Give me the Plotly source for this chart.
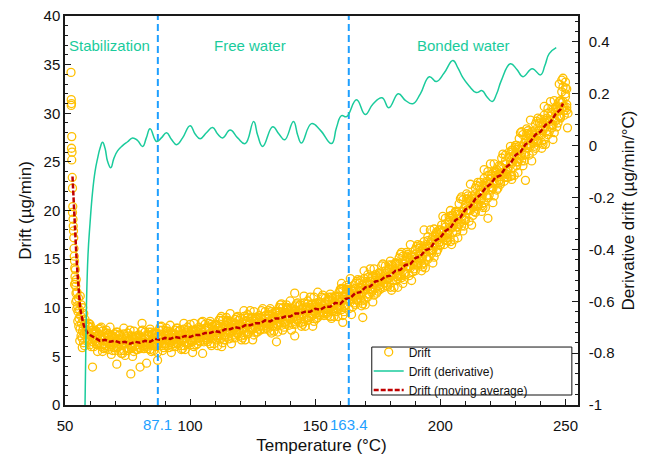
import plotly.graph_objects as go

# ---------------- data ----------------
# early (stabilization) drift readings
init_temp = [52.4, 52.5, 52.6, 52.5, 52.7, 52.6, 52.8, 52.7, 52.9, 53.0, 53.1, 53.0, 53.2, 53.3, 53.4,
             53.5, 53.6, 53.7, 53.8, 53.9, 54.0, 54.1, 54.2, 54.3, 54.4, 54.5, 54.6, 54.8, 55.0, 55.2,
             55.4, 55.6, 55.8, 56.0, 56.2, 56.4, 56.6, 56.8, 57.0, 57.2, 57.4, 57.6, 57.8, 55.5, 56.5,
             57.5, 54.7, 55.9, 56.9, 57.3, 53.8, 54.3, 55.1, 56.1, 57.1]
init_drift = [34.2, 31.4, 31.0, 30.8, 27.6, 26.4, 26.0, 25.2, 23.4, 22.3, 20.4, 19.8, 19.1, 18.4, 17.9,
              17.2, 16.1, 15.3, 14.8, 14.1, 13.2, 13.9, 12.6, 12.2, 11.5, 12.9, 10.8, 11.6, 10.2, 9.6,
              11.0, 8.9, 9.8, 7.8, 9.2, 7.1, 8.4, 6.9, 7.6, 8.8, 6.4, 7.3, 6.1, 8.1, 10.3,
              9.4, 9.9, 6.6, 5.9, 8.0, 12.4, 10.6, 8.6, 11.2, 10.0]

temp_grid = [58, 59, 60, 61, 62, 63, 64, 65, 66, 67, 68, 69, 70, 71, 72, 73, 74, 75, 76, 77, 78, 79, 80, 81,
             82, 83, 84, 85, 86, 87, 88, 89, 90, 91, 92, 93, 94, 95, 96, 97, 98, 99, 100, 101, 102, 103, 104, 105,
             106, 107, 108, 109, 110, 111, 112, 113, 114, 115, 116, 117, 118, 119, 120, 121, 122, 123, 124, 125, 126, 127, 128, 129,
             130, 131, 132, 133, 134, 135, 136, 137, 138, 139, 140, 141, 142, 143, 144, 145, 146, 147, 148, 149, 150, 151, 152, 153,
             154, 155, 156, 157, 158, 159, 160, 161, 162, 163, 164, 165, 166, 167, 168, 169, 170, 171, 172, 173, 174, 175, 176, 177,
             178, 179, 180, 181, 182, 183, 184, 185, 186, 187, 188, 189, 190, 191, 192, 193, 194, 195, 196, 197, 198, 199, 200, 201,
             202, 203, 204, 205, 206, 207, 208, 209, 210, 211, 212, 213, 214, 215, 216, 217, 218, 219, 220, 221, 222, 223, 224, 225,
             226, 227, 228, 229, 230, 231, 232, 233, 234, 235, 236, 237, 238, 239, 240, 241, 242, 243, 244, 245, 246, 247, 248, 249, 250]
temp_grid_b = [58.5, 59.5, 60.5, 61.5, 62.5, 63.5, 64.5, 65.5, 66.5, 67.5, 68.5, 69.5, 70.5, 71.5, 72.5, 73.5, 74.5, 75.5, 76.5, 77.5, 78.5, 79.5, 80.5, 81.5,
               82.5, 83.5, 84.5, 85.5, 86.5, 87.5, 88.5, 89.5, 90.5, 91.5, 92.5, 93.5, 94.5, 95.5, 96.5, 97.5, 98.5, 99.5, 100.5, 101.5, 102.5, 103.5, 104.5, 105.5,
               106.5, 107.5, 108.5, 109.5, 110.5, 111.5, 112.5, 113.5, 114.5, 115.5, 116.5, 117.5, 118.5, 119.5, 120.5, 121.5, 122.5, 123.5, 124.5, 125.5, 126.5, 127.5, 128.5, 129.5,
               130.5, 131.5, 132.5, 133.5, 134.5, 135.5, 136.5, 137.5, 138.5, 139.5, 140.5, 141.5, 142.5, 143.5, 144.5, 145.5, 146.5, 147.5, 148.5, 149.5, 150.5, 151.5, 152.5, 153.5,
               154.5, 155.5, 156.5, 157.5, 158.5, 159.5, 160.5, 161.5, 162.5, 163.5, 164.5, 165.5, 166.5, 167.5, 168.5, 169.5, 170.5, 171.5, 172.5, 173.5, 174.5, 175.5, 176.5, 177.5,
               178.5, 179.5, 180.5, 181.5, 182.5, 183.5, 184.5, 185.5, 186.5, 187.5, 188.5, 189.5, 190.5, 191.5, 192.5, 193.5, 194.5, 195.5, 196.5, 197.5, 198.5, 199.5, 200.5, 201.5,
               202.5, 203.5, 204.5, 205.5, 206.5, 207.5, 208.5, 209.5, 210.5, 211.5, 212.5, 213.5, 214.5, 215.5, 216.5, 217.5, 218.5, 219.5, 220.5, 221.5, 222.5, 223.5, 224.5, 225.5,
               226.5, 227.5, 228.5, 229.5, 230.5, 231.5, 232.5, 233.5, 234.5, 235.5, 236.5, 237.5, 238.5, 239.5, 240.5, 241.5, 242.5, 243.5, 244.5, 245.5, 246.5, 247.5, 248.5, 249.5, 250.5]

# drift readings (µg/min); sets 1, 3, 5 at temp_grid, sets 2, 4, 6 at temp_grid_b
drift_set1 = [8.2, 6.7, 8.3, 6.9, 7.5, 5.5, 6.8, 7.6, 6.1, 6.5, 8.0, 5.6, 6.9, 5.9, 7.2, 5.3, 6.6, 7.4, 6.2, 5.0, 7.0, 6.5, 5.8, 7.7,
              6.9, 5.8, 7.8, 6.5, 7.3, 5.4, 6.9, 7.7, 6.3, 6.7, 8.2, 6.0, 7.3, 6.3, 7.7, 5.8, 7.2, 8.0, 6.7, 5.4, 7.7, 7.2, 6.5, 8.6,
              7.7, 6.5, 8.6, 7.2, 8.2, 6.1, 7.7, 8.7, 7.2, 7.7, 9.4, 6.9, 8.4, 7.3, 8.9, 6.9, 8.4, 9.3, 7.9, 6.7, 8.9, 8.4, 7.7, 9.9,
              8.9, 7.8, 9.9, 8.6, 9.5, 7.5, 9.1, 10.0, 8.5, 9.0, 10.7, 8.3, 9.8, 8.7, 10.3, 8.3, 9.8, 10.7, 9.4, 8.1, 10.4, 9.9, 9.2, 11.3,
              10.4, 9.2, 11.4, 10.1, 11.1, 9.1, 10.7, 11.9, 10.2, 10.9, 13.0, 10.1, 12.0, 10.8, 12.8, 10.4, 12.3, 13.4, 11.9, 10.6, 13.4, 12.7, 11.9, 14.5,
              13.5, 12.2, 14.8, 13.3, 14.5, 12.1, 14.1, 15.3, 13.6, 14.3, 16.5, 13.7, 15.5, 14.4, 16.4, 14.2, 16.1, 17.3, 15.9, 14.6, 17.4, 17.0, 16.4, 19.4,
              18.3, 16.9, 20.0, 18.3, 19.8, 17.2, 19.6, 21.1, 19.3, 20.1, 22.7, 19.5, 21.7, 20.5, 22.9, 20.3, 22.5, 24.0, 22.4, 20.8, 24.0, 23.5, 22.7, 25.8,
              24.8, 23.4, 26.6, 25.0, 26.5, 23.9, 26.3, 27.8, 26.0, 26.9, 29.3, 26.1, 28.3, 27.1, 29.4, 26.8, 29.0, 30.5, 28.8, 27.3, 30.6, 30.2, 29.5, 32.7, 31.7]
drift_set2 = [7.3, 8.4, 6.0, 7.3, 7.6, 6.4, 8.0, 5.8, 6.6, 7.1, 5.2, 6.8, 7.5, 6.3, 5.6, 7.9, 5.9, 6.5, 7.1, 5.5, 6.9, 6.2, 7.6, 5.8,
              6.0, 7.5, 5.5, 6.9, 7.4, 6.3, 8.1, 5.9, 6.8, 7.3, 5.4, 7.2, 7.9, 6.7, 6.1, 8.4, 6.5, 7.1, 7.6, 6.0, 7.6, 6.9, 8.5, 6.5,
              6.7, 8.4, 6.1, 7.7, 8.3, 7.1, 9.1, 6.7, 7.7, 8.4, 6.3, 8.2, 9.0, 7.7, 7.1, 9.7, 7.5, 8.3, 8.9, 7.2, 8.8, 8.1, 9.7, 7.8,
              7.9, 9.7, 7.4, 9.0, 9.6, 8.5, 10.4, 8.0, 9.1, 9.7, 7.7, 9.6, 10.4, 9.2, 8.5, 11.2, 9.0, 9.7, 10.3, 8.6, 10.2, 9.5, 11.1, 9.2,
              9.4, 11.1, 8.9, 10.5, 11.2, 10.1, 12.0, 9.6, 10.9, 11.7, 9.3, 11.7, 12.7, 11.3, 10.7, 13.8, 11.4, 12.3, 13.1, 11.3, 13.1, 12.3, 14.3, 12.1,
              12.3, 14.4, 11.8, 13.8, 14.6, 13.3, 15.7, 12.9, 14.3, 15.1, 12.8, 15.2, 16.3, 14.9, 14.4, 18.0, 15.2, 16.1, 17.0, 15.2, 17.8, 16.7, 18.5, 16.5,
              16.9, 19.4, 16.5, 18.9, 19.9, 18.6, 21.4, 18.4, 20.0, 21.0, 18.5, 21.3, 22.6, 21.1, 20.5, 24.2, 21.5, 22.7, 23.7, 21.5, 23.9, 23.1, 25.4, 23.0,
              23.4, 26.0, 23.2, 25.6, 26.7, 25.3, 28.1, 25.1, 26.7, 27.8, 25.1, 27.9, 29.2, 27.7, 27.0, 30.7, 28.2, 29.1, 30.1, 28.0, 30.4, 29.7, 32.2, 29.8, 30.3]
drift_set3 = [8.8, 7.2, 6.2, 7.7, 7.0, 6.2, 7.9, 5.5, 7.0, 7.4, 6.2, 6.5, 5.6, 7.5, 6.8, 6.2, 5.1, 7.1, 7.7, 5.9, 6.7, 5.7, 7.0, 6.4,
              7.5, 6.3, 5.7, 7.3, 6.8, 6.1, 8.0, 5.6, 7.2, 7.6, 6.4, 6.9, 6.0, 7.9, 7.2, 6.7, 5.7, 7.7, 8.3, 6.5, 7.3, 6.3, 7.8, 7.2,
              8.3, 7.1, 6.3, 8.1, 7.6, 6.9, 8.9, 6.4, 8.2, 8.7, 7.4, 7.9, 6.9, 9.1, 8.3, 7.8, 6.7, 9.0, 9.7, 7.8, 8.6, 7.5, 9.0, 8.4,
              9.6, 8.3, 7.6, 9.4, 9.0, 8.2, 10.3, 7.7, 9.5, 10.0, 8.8, 9.3, 8.3, 10.5, 9.8, 9.3, 8.1, 10.4, 11.1, 9.2, 10.0, 9.0, 10.5, 9.9,
              11.0, 9.8, 9.1, 11.0, 10.5, 9.8, 11.9, 9.2, 11.4, 12.1, 10.6, 11.3, 10.3, 12.9, 12.1, 11.6, 10.3, 13.1, 14.0, 11.8, 12.8, 11.7, 13.5, 12.9,
              14.3, 12.9, 12.1, 14.3, 13.8, 13.0, 15.5, 12.5, 14.8, 15.5, 14.1, 14.8, 13.8, 16.5, 15.8, 15.3, 14.1, 16.9, 18.0, 15.9, 17.0, 16.0, 18.0, 17.4,
              19.2, 17.6, 16.8, 19.5, 19.0, 18.3, 21.2, 17.9, 20.6, 21.5, 20.0, 20.8, 19.8, 22.9, 22.1, 21.7, 20.3, 23.6, 24.8, 22.3, 23.6, 22.3, 24.5, 23.9,
              25.7, 24.2, 23.5, 26.2, 25.8, 25.0, 28.0, 24.6, 27.3, 28.2, 26.6, 27.5, 26.4, 29.5, 28.7, 28.2, 26.8, 30.0, 31.2, 28.8, 30.1, 29.0, 31.3, 30.7, 32.6]
drift_set4 = [7.7, 8.0, 8.0, 6.0, 6.5, 7.8, 6.0, 7.0, 7.7, 5.7, 7.2, 6.4, 6.0, 6.7, 5.3, 7.3, 6.8, 5.8, 6.1, 7.6, 5.7, 7.2, 6.5, 6.1,
              6.4, 7.1, 7.5, 5.6, 6.3, 7.7, 6.1, 7.1, 7.9, 5.9, 7.4, 6.8, 6.4, 7.1, 5.7, 7.8, 7.4, 6.4, 6.7, 8.4, 6.2, 8.0, 7.2, 6.9,
              7.1, 7.9, 8.3, 6.3, 7.1, 8.7, 6.9, 8.0, 9.0, 6.8, 8.5, 7.8, 7.4, 8.2, 6.7, 9.1, 8.6, 7.5, 7.9, 9.6, 7.5, 9.2, 8.5, 8.1,
              8.4, 9.2, 9.6, 7.6, 8.4, 10.0, 8.2, 9.4, 10.3, 8.2, 9.9, 9.2, 8.8, 9.6, 8.1, 10.5, 10.0, 9.0, 9.4, 11.1, 8.9, 10.6, 9.9, 9.5,
              9.8, 10.7, 11.1, 9.1, 10.0, 11.6, 9.8, 11.1, 12.3, 9.9, 11.9, 11.2, 10.8, 11.8, 10.2, 13.0, 12.5, 11.4, 11.9, 14.0, 11.5, 13.6, 12.8, 12.5,
              12.9, 13.9, 14.4, 12.1, 13.2, 15.1, 13.1, 14.5, 15.7, 13.3, 15.4, 14.7, 14.4, 15.5, 13.8, 16.8, 16.3, 15.2, 15.9, 18.1, 15.7, 18.0, 17.3, 17.0,
              17.5, 18.8, 19.5, 17.0, 18.3, 20.7, 18.4, 20.2, 21.7, 18.9, 21.5, 20.7, 20.4, 21.7, 19.9, 23.3, 22.8, 21.6, 22.4, 24.8, 22.1, 24.6, 23.8, 23.4,
              24.0, 25.4, 26.2, 23.6, 25.0, 27.4, 25.1, 26.9, 28.4, 25.7, 28.1, 27.3, 27.0, 28.3, 26.4, 29.8, 29.3, 28.1, 28.8, 31.3, 28.6, 31.2, 30.5, 30.3, 30.9]
drift_set5 = [8.4, 7.3, 7.2, 6.5, 7.6, 7.1, 6.3, 6.8, 5.9, 7.2, 6.8, 6.2, 7.3, 6.0, 6.5, 6.8, 6.3, 5.6, 6.7, 7.0, 6.1, 6.6, 5.9, 6.7,
              7.1, 6.4, 6.7, 6.1, 7.4, 7.0, 6.4, 6.9, 6.1, 7.4, 7.0, 6.6, 7.7, 6.4, 6.9, 7.3, 6.9, 6.2, 7.3, 7.7, 6.7, 7.3, 6.6, 7.5,
              7.9, 7.2, 7.4, 6.8, 8.3, 7.9, 7.2, 7.8, 7.0, 8.5, 8.1, 7.6, 8.8, 7.4, 8.0, 8.5, 8.0, 7.3, 8.6, 9.0, 7.9, 8.5, 7.8, 8.8,
              9.2, 8.4, 8.7, 8.1, 9.6, 9.2, 8.5, 9.1, 8.3, 9.8, 9.4, 8.9, 10.2, 8.8, 9.4, 9.9, 9.5, 8.7, 10.0, 10.4, 9.4, 10.0, 9.3, 10.2,
              10.6, 9.9, 10.2, 9.6, 11.2, 10.8, 10.2, 10.9, 10.0, 11.8, 11.4, 10.9, 12.5, 10.9, 11.7, 12.4, 11.9, 11.1, 12.7, 13.2, 12.0, 12.8, 12.1, 13.2,
              13.8, 13.0, 13.4, 12.8, 14.6, 14.2, 13.4, 14.2, 13.4, 15.2, 14.9, 14.4, 16.0, 14.6, 15.4, 16.1, 15.7, 15.0, 16.7, 17.3, 16.3, 17.2, 16.5, 17.9,
              18.6, 17.8, 18.3, 17.7, 19.9, 19.6, 18.8, 19.9, 19.0, 21.2, 20.9, 20.4, 22.3, 20.7, 21.7, 22.6, 22.1, 21.3, 23.3, 23.9, 22.7, 23.7, 22.9, 24.3,
              25.1, 24.3, 25.0, 24.4, 26.7, 26.3, 25.6, 26.6, 25.7, 27.9, 27.5, 27.0, 28.9, 27.2, 28.2, 29.1, 28.6, 27.8, 29.7, 30.4, 29.2, 30.3, 29.6, 31.2, 32.0]
drift_set6 = [7.5, 8.1, 7.1, 7.4, 6.2, 7.3, 6.7, 6.2, 7.4, 6.4, 7.0, 5.9, 6.6, 7.2, 6.2, 5.6, 6.9, 6.6, 5.9, 6.4, 7.1, 6.2, 6.9, 6.4,
              6.2, 7.2, 6.6, 7.0, 6.0, 7.2, 6.8, 6.3, 7.6, 6.6, 7.2, 6.3, 7.0, 7.6, 6.6, 6.1, 7.5, 7.2, 6.5, 7.1, 7.8, 6.9, 7.7, 7.2,
              6.9, 8.0, 7.3, 7.8, 6.7, 8.1, 7.6, 7.1, 8.6, 7.6, 8.3, 7.2, 8.0, 8.7, 7.7, 7.2, 8.7, 8.4, 7.7, 8.3, 9.0, 8.1, 8.9, 8.4,
              8.2, 9.3, 8.6, 9.1, 8.1, 9.5, 9.0, 8.5, 10.0, 8.9, 9.6, 8.6, 9.4, 10.2, 9.1, 8.6, 10.1, 9.8, 9.1, 9.7, 10.5, 9.5, 10.4, 9.9,
              9.6, 10.8, 10.1, 10.6, 9.6, 11.1, 10.6, 10.1, 11.9, 10.8, 11.7, 10.5, 11.6, 12.5, 11.3, 10.8, 12.7, 12.4, 11.6, 12.4, 13.3, 12.3, 13.4, 12.9,
              12.6, 14.0, 13.3, 13.9, 12.8, 14.5, 14.0, 13.5, 15.3, 14.2, 15.2, 14.0, 15.1, 16.1, 15.0, 14.6, 16.5, 16.3, 15.6, 16.5, 17.6, 16.7, 17.8, 17.4,
              17.2, 19.0, 18.2, 19.1, 17.8, 19.9, 19.4, 19.0, 21.2, 20.0, 21.2, 19.9, 21.3, 22.5, 21.2, 20.8, 23.0, 22.8, 22.1, 23.0, 24.2, 23.1, 24.4, 23.9,
              23.7, 25.5, 24.8, 25.7, 24.6, 26.6, 26.2, 25.7, 27.9, 26.7, 27.8, 26.6, 27.9, 29.0, 27.8, 27.3, 29.5, 29.3, 28.5, 29.5, 30.7, 29.7, 31.1, 30.7, 30.6]

outlier_temp = [61.0, 76.3, 80.0, 70.7, 82.6, 87.0, 105.0, 112.6, 80.8, 141.8, 151.0, 141.8, 134.5, 160.5, 161.0,
                169.0, 234.0, 249.0, 250.0, 248.5, 250.5, 251.0, 250.8, 247.5, 219.0, 228.5]
outlier_drift = [3.9, 3.2, 3.9, 4.2, 4.3, 4.6, 5.3, 6.0, 8.4, 11.5, 11.6, 7.1, 6.5, 12.5, 8.5,
                 9.0, 23.1, 33.6, 33.2, 33.4, 32.5, 30.0, 28.5, 33.0, 19.2, 23.6]

ma_temp = [53, 53.5, 54, 54.5, 55, 55.5, 56, 56.5, 57, 57.5, 58, 59, 60, 62, 64, 66, 68, 70, 72, 74, 76, 78, 80,
           82, 84, 86, 88, 90, 92, 94, 96, 98, 100, 102, 104, 106, 108, 110, 112, 114, 116, 118, 120, 122, 124,
           126, 128, 130, 132, 134, 136, 138, 140, 142, 144, 146, 148, 150, 152, 154, 156, 158, 160, 162, 164,
           166, 168, 170, 172, 174, 176, 178, 180, 182, 184, 186, 188, 190, 192, 194, 196, 198, 200, 202, 204,
           206, 208, 210, 212, 214, 216, 218, 220, 222, 224, 226, 228, 230, 232, 234, 236, 238, 240, 242, 244,
           246, 248, 249]
ma_drift = [23.5, 20.5, 18.0, 15.6, 13.5, 11.7, 10.1, 9.3, 8.7, 8.2, 7.9, 7.4, 7.2, 6.9, 6.6, 6.7, 6.5, 6.6, 6.4, 6.5, 6.3, 6.5, 6.4,
            6.6, 6.5, 6.8, 6.7, 6.9, 6.8, 7.0, 6.9, 7.1, 7.0, 7.2, 7.2, 7.4, 7.4, 7.6, 7.5, 7.8, 7.8, 8.0, 7.9, 8.2, 8.2,
            8.4, 8.4, 8.7, 8.6, 8.9, 8.9, 9.1, 9.1, 9.4, 9.4, 9.6, 9.6, 9.9, 9.8, 10.1, 10.1, 10.5, 10.4, 10.9, 11.0,
            11.5, 11.6, 12.1, 12.2, 12.7, 12.8, 13.2, 13.3, 13.8, 13.9, 14.4, 14.5, 15.1, 15.3, 15.9, 16.1, 16.9, 17.2, 17.9, 18.2,
            19.0, 19.3, 20.1, 20.4, 21.2, 21.6, 22.3, 22.7, 23.4, 23.6, 24.4, 24.8, 25.7, 26.0, 26.8, 27.1, 27.8, 28.1, 28.8, 29.1,
            29.9, 30.4, 31.0]

der_temp = [57.6, 58.0, 58.5, 59.2, 60.0, 61.0, 62.0, 63.0, 64.0, 65.0, 66.0, 67.0, 68.3, 69.5, 71.0, 73.0, 75.0,
            77.0, 79.0, 81.0, 82.5, 84.0, 86.6, 88.5, 90.6, 92.5, 94.6, 97.0, 100.0, 102.0, 104.0, 106.5, 109.0,
            111.0, 113.0, 116.0, 119.0, 122.0, 125.4, 127.0, 129.0, 133.0, 135.5, 137.8, 141.3, 143.0, 144.5, 148.5,
            152.0, 156.5, 158.5, 160.5, 162.5, 166.5, 170.0, 173.0, 176.7, 179.4, 183.2, 186.0, 189.0, 192.0, 195.6,
            198.4, 201.5, 205.0, 207.0, 209.0, 211.5, 214.3, 216.7, 218.5, 220.7, 222.5, 224.3, 228.0, 230.5, 233.0,
            236.7, 240.0, 241.8, 243.5, 246.3]
der_value = [-1.15, -1.0, -0.65, -0.42, -0.30, -0.18, -0.10, -0.05, -0.01, 0.013, -0.01, -0.06, -0.085, -0.05, -0.02, 0.0, 0.015,
             0.03, 0.02, -0.003, 0.03, 0.065, 0.016, 0.03, 0.05, 0.025, 0.004, 0.03, 0.077, 0.045, 0.027, 0.05, 0.07,
             0.045, 0.03, 0.06, 0.03, 0.008, 0.093, 0.04, -0.003, 0.073, 0.045, 0.023, 0.093, 0.04, 0.01, 0.085,
             0.06, 0.008, 0.07, 0.116, 0.112, 0.177, 0.12, 0.16, 0.185, 0.146, 0.2, 0.175, 0.162, 0.2, 0.266,
             0.247, 0.28, 0.328, 0.3, 0.262, 0.23, 0.205, 0.212, 0.19, 0.17, 0.2, 0.25, 0.316, 0.295, 0.266,
             0.297, 0.273, 0.31, 0.355, 0.378]

boundary_temp = [87.1, 163.4]
boundary_labels = ["87.1", "163.4"]
region_names = ["Stabilization", "Free water", "Bonded water"]
region_centers = [67.7, 123.8, 209.4]

x_ticks = [50, 100, 150, 200, 250]
y_ticks = [0, 5, 10, 15, 20, 25, 30, 35, 40]
y2_ticks = [-1, -0.8, -0.6, -0.4, -0.2, 0, 0.2, 0.4]
y2_labels = ["-1", "-0.8", "-0.6", "-0.4", "-0.2", "0", "0.2", "0.4"]

# ---------------- figure ----------------
FONT = "Liberation Sans, Arial, sans-serif"
ORANGE = "#FFC000"
GREEN = "#1ACB9C"
RED = "#C00000"
BLUE = "#1E9FFF"
AX = "#1a1a1a"
TXT = "#111111"

fig = go.Figure()

scatter_x = (init_temp + temp_grid + temp_grid_b + temp_grid + temp_grid_b + temp_grid + temp_grid_b
             + outlier_temp)
scatter_y = (init_drift + drift_set1 + drift_set2 + drift_set3 + drift_set4 + drift_set5 + drift_set6
             + outlier_drift)
fig.add_trace(go.Scatter(
    x=scatter_x, y=scatter_y, mode="markers", name="Drift",
    marker=dict(symbol="circle-open", size=8, color=ORANGE, line=dict(width=1.3, color=ORANGE)),
))

fig.add_trace(go.Scatter(
    x=der_temp, y=der_value, mode="lines", name="Drift (derivative)", yaxis="y2",
    line=dict(color=GREEN, width=1.5, shape="spline", smoothing=1.3),
))

fig.add_trace(go.Scatter(
    x=ma_temp, y=ma_drift, mode="lines", name="Drift (moving average)",
    line=dict(color=RED, width=2.5, dash="5px,2px"),
))

for bt in boundary_temp:
    fig.add_trace(go.Scatter(
        x=[bt, bt], y=[y_ticks[0], y_ticks[-1]], mode="lines", showlegend=False, hoverinfo="skip",
        line=dict(color=BLUE, width=2, dash="7px,4px"),
    ))

annotations = []
for name, cx in zip(region_names, region_centers):
    annotations.append(dict(x=cx, y=0.925, xref="x", yref="paper", text=name, showarrow=False,
                            font=dict(family=FONT, size=15, color=GREEN), xanchor="center", yanchor="middle"))
for bt, lab in zip(boundary_temp, boundary_labels):
    annotations.append(dict(x=bt, y=-0.049, xref="x", yref="paper", text=lab, showarrow=False,
                            font=dict(family=FONT, size=15, color=BLUE), xanchor="center", yanchor="middle"))

# legend frame
shapes = [dict(type="rect", xref="paper", yref="paper", x0=0.598, x1=0.988, y0=0.0257, y1=0.149,
               line=dict(color=TXT, width=1), fillcolor="white", layer="above")]

# the page body adds an 8px offset, so the figure is 8px smaller and margins shifted
fig.update_layout(
    width=641, height=448,
    margin=dict(l=57, r=71, t=8, b=51),
    paper_bgcolor="white", plot_bgcolor="white",
    font=dict(family=FONT, size=15, color=TXT),
    showlegend=True,
    legend=dict(x=0.592, y=0.0874, xanchor="left", yanchor="middle",
                borderwidth=0, bgcolor="rgba(0,0,0,0)",
                font=dict(family=FONT, size=12, color=TXT),
                tracegroupgap=0, itemwidth=30),
    xaxis=dict(range=[50, 255], tickvals=x_ticks, showgrid=False, zeroline=False, automargin=False,
               showline=True, linecolor=AX, linewidth=1.5, mirror=True,
               ticks="inside", ticklen=6, tickcolor=AX, ticklabelstandoff=6, ticklabeloverflow="allow",
               minor=dict(dtick=10, ticks="inside", ticklen=4, tickcolor=AX),
               tickfont=dict(family=FONT, size=15, color=TXT),
               title=dict(text="Temperature (°C)", font=dict(family=FONT, size=17, color=TXT), standoff=6)),
    yaxis=dict(range=[0, 40], tickvals=y_ticks, showgrid=False, zeroline=False, automargin=False,
               showline=True, linecolor=AX, linewidth=1.5,
               ticks="inside", ticklen=6, tickcolor=AX, ticklabeloverflow="allow",
               minor=dict(dtick=1, ticks="inside", ticklen=3, tickcolor=AX),
               tickfont=dict(family=FONT, size=15, color=TXT),
               title=dict(text="Drift (µg/min)", font=dict(family=FONT, size=17, color=TXT), standoff=8)),
    yaxis2=dict(range=[-1, 0.5], overlaying="y", side="right", tickvals=y2_ticks, ticktext=y2_labels,
                showgrid=False, zeroline=False, showline=True, linecolor=AX, linewidth=1.5, automargin=False,
                ticks="inside", ticklen=6, tickcolor=AX, ticklabelstandoff=6, ticklabeloverflow="allow",
                minor=dict(dtick=0.04, tick0=0, ticks="inside", ticklen=3, tickcolor=AX),
                tickfont=dict(family=FONT, size=15, color=TXT),
                title=dict(text="Derivative drift (µg/min/°C)", font=dict(family=FONT, size=17, color=TXT), standoff=8)),
    annotations=annotations,
    shapes=shapes,
)

fig.write_html("out.html")
